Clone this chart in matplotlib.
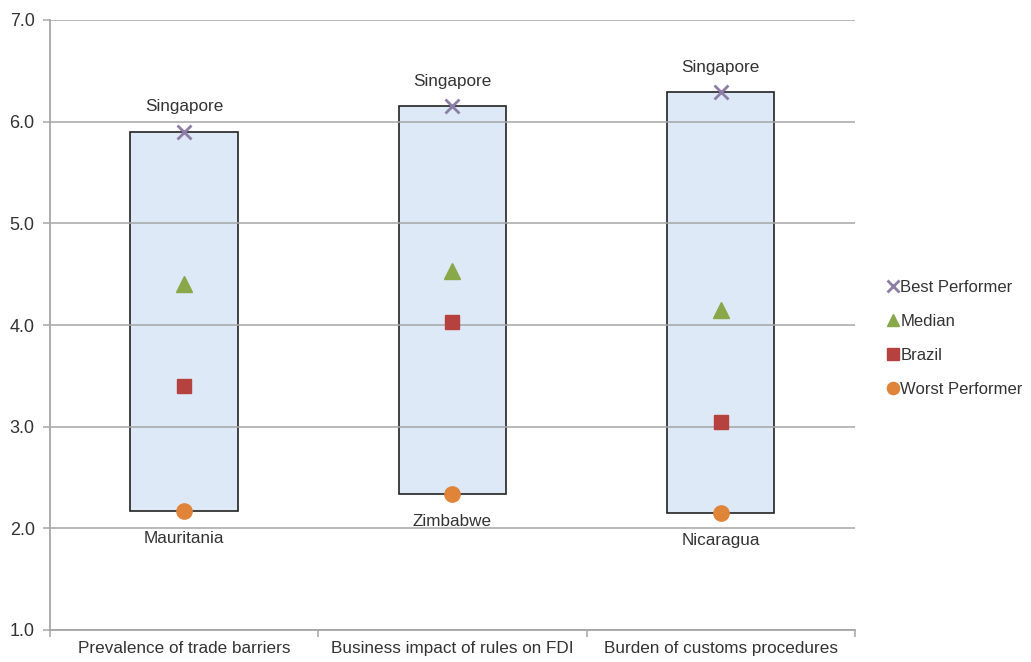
import numpy as np
import matplotlib.pyplot as plt
from matplotlib.patches import Rectangle

plt.rcParams['font.family'] = ['Liberation Sans', 'DejaVu Sans']

# Pillar scores (1-7 scale)
categories = ['Prevalence of trade barriers', 'Business impact of rules on FDI',
              'Burden of customs procedures']
best = [5.90, 6.15, 6.29]
median = [4.40, 4.53, 4.15]
brazil = [3.40, 4.03, 3.05]
worst = [2.17, 2.34, 2.15]
best_names = ['Singapore', 'Singapore', 'Singapore']
worst_names = ['Mauritania', 'Zimbabwe', 'Nicaragua']

text_col = '#333333'
grid_col = '#a6a6a6'
fs = 12.3

fig = plt.figure(figsize=(10.31, 6.62), dpi=100)
ax = fig.add_axes([50 / 1031, 32 / 662, 805 / 1031, 610 / 662])

x = np.arange(len(categories)) + 0.5
box_w = 0.40

# range boxes from worst to best performer
for xi, lo, hi in zip(x, worst, best):
    ax.add_patch(Rectangle((xi - box_w / 2, lo), box_w, hi - lo,
                           facecolor='#dde9f6', edgecolor='#222222', lw=1.2, zorder=1))

ax.plot(x, best, ls='none', marker='x', ms=10, mew=2, color='#8c7ea6', zorder=4, label='Best Performer')
ax.plot(x, median, ls='none', marker='^', ms=11, color='#88a84a', zorder=4, label='Median')
ax.plot(x, brazil, ls='none', marker='s', ms=10, color='#b5423f', zorder=4, label='Brazil')
ax.plot(x, worst, ls='none', marker='o', ms=11, color='#e0843a', zorder=4, label='Worst Performer')

for xi, v, name in zip(x, best, best_names):
    ax.annotate(name, (xi, v), xytext=(0, 18), textcoords='offset points',
                ha='center', va='center', fontsize=fs, color=text_col)
for xi, v, name in zip(x, worst, worst_names):
    ax.annotate(name, (xi, v), xytext=(0, -20), textcoords='offset points',
                ha='center', va='center', fontsize=fs, color=text_col)

ax.set_xlim(0, 3)
ax.set_ylim(1.0, 7.0)
ax.set_yticks(np.arange(1, 8))
ax.set_yticklabels([f'{v:.1f}' for v in np.arange(1, 8)], fontsize=13, color=text_col)
ax.yaxis.grid(True, color=grid_col, lw=1.1)
ax.set_axisbelow(False)
for gl in ax.get_ygridlines():
    gl.set_zorder(2)

ax.set_xticks(x)
ax.set_xticklabels(categories, fontsize=fs, color=text_col)
ax.set_xticks([0, 1, 2, 3], minor=True)
ax.tick_params(axis='x', which='major', length=0, pad=8)
ax.tick_params(axis='x', which='minor', length=5, color=grid_col, width=1.1)
ax.tick_params(axis='y', length=5, color=grid_col, width=1.1, pad=6)

for s in ['top', 'right']:
    ax.spines[s].set_visible(False)
for s in ['left', 'bottom']:
    ax.spines[s].set_color(grid_col)
    ax.spines[s].set_linewidth(1.3)

ax.legend(loc='center left', bbox_to_anchor=(1.024, 0.478), frameon=False,
          fontsize=12, handlelength=0.5, handletextpad=0.15, labelspacing=1.15,
          markerscale=0.8, labelcolor=text_col)

fig.savefig('out.png', dpi=100)
